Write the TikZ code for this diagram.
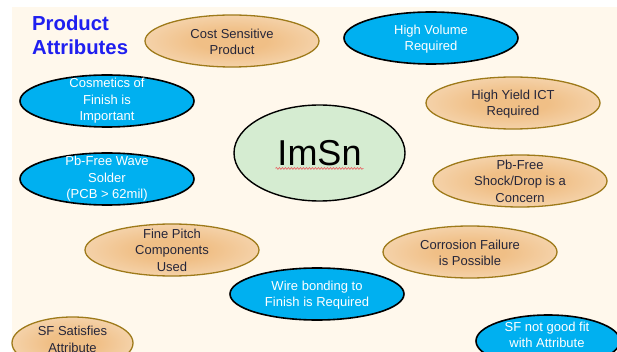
\documentclass[tikz,border=0pt]{standalone}
\usepackage{fontspec}
\setmainfont{Liberation Sans}
\usetikzlibrary{shapes.geometric,decorations.pathmorphing,calc}
\definecolor{cream}{HTML}{FFF8EC}
\definecolor{tanin}{HTML}{F0BF86}
\definecolor{tanout}{HTML}{FCF1E3}
\definecolor{tanline}{HTML}{9E7A1A}
\definecolor{skyfill}{HTML}{00B0F0}
\definecolor{mint}{HTML}{D5ECD1}
\definecolor{titleblue}{HTML}{1F1FF0}
\definecolor{squiggle}{HTML}{E86A6A}
\definecolor{inktext}{HTML}{26263A}
% warm glow: orange core fading to pale edges at the outline
\pgfdeclareradialshading{tanglow}{\pgfpoint{0bp}{0bp}}{%
  color(0bp)=(tanin); color(10bp)=(tanin); color(50bp)=(tanout); color(70bp)=(tanout)}
\begin{document}
\begin{tikzpicture}[x=1pt,y=-1pt,
  oval/.style={ellipse, inner sep=0pt, minimum width=174pt, minimum height=52pt},
  tanoval/.style={oval, draw=tanline, line width=1.3pt, shading=tanglow},
  blueoval/.style={oval, draw=black, line width=1.6pt, fill=skyfill},
  lbl/.style={inner sep=0pt, align=center, font=\fontsize{13}{16.5}\selectfont},
  darklbl/.style={lbl, text=inktext},
  whitelbl/.style={lbl, text=white},
]
\useasboundingbox (0,0) rectangle (617,352);
\clip (0,0) rectangle (617,352);
% slide background
\fill[cream] (12,7) rectangle (640,370);

% title
\node[anchor=north west, inner sep=0pt, align=left, text=titleblue,
      font=\fontsize{20.3}{24}\selectfont\bfseries] (title) at (32,16)
      {Product\\Attributes};

% central finish
\node[ellipse, draw=black, line width=1.4pt, fill=mint, inner sep=0pt,
      minimum width=171pt, minimum height=96pt,
      font=\fontsize{36}{40}\selectfont] (imsn) at (319.5,153) {ImSn};
\draw[squiggle, line width=0.7pt, decorate,
      decoration={snake, amplitude=0.9pt, segment length=3pt}]
  ($(imsn.base)+(-44,3)$) -- ($(imsn.base)+(44,3)$);

% attributes
\node[tanoval] (cost) at (232,41) {};
\node[darklbl] (cost-t) at (232,42) {Cost Sensitive\\Product};

\node[blueoval] (vol) at (431,38) {};
\node[whitelbl] (vol-t) at (431,39) {High Volume\\Required};

\node[blueoval] (cosm) at (107,101) {};
\node[whitelbl] (cosm-t) at (cosm) {Cosmetics of\\Finish is\\Important};

\node[tanoval] (ict) at (513,103) {};
\node[darklbl] (ict-t) at (513,104) {High Yield ICT\\Required};

\node[blueoval] (wave) at (107,179) {};
\node[whitelbl] (wave-t) at (wave) {Pb-Free Wave\\Solder\\(PCB > 62mil)};

\node[tanoval] (shock) at (520,181) {};
\node[darklbl] (shock-t) at (shock) {Pb-Free\\Shock/Drop is a\\Concern};

\node[tanoval] (pitch) at (172,250) {};
\node[darklbl] (pitch-t) at (pitch) {Fine Pitch\\Components\\Used};

\node[tanoval] (corr) at (470,252) {};
\node[darklbl] (corr-t) at (470,253) {Corrosion Failure\\is Possible};

\node[blueoval] (wire) at (317,294) {};
\node[whitelbl] (wire-t) at (317,295) {Wire bonding to\\Finish is Required};

% legend
\node[tanoval, minimum width=121pt] (sfyes) at (72.5,343) {};
\node[darklbl] (sfyes-t) at (72.5,339.5) {SF Satisfies\\Attribute};

\node[blueoval, minimum width=144pt] (sfno) at (548,341) {};
\node[whitelbl] (sfno-t) at (547,335) {SF not good fit\\with Attribute};
\end{tikzpicture}
\end{document}
